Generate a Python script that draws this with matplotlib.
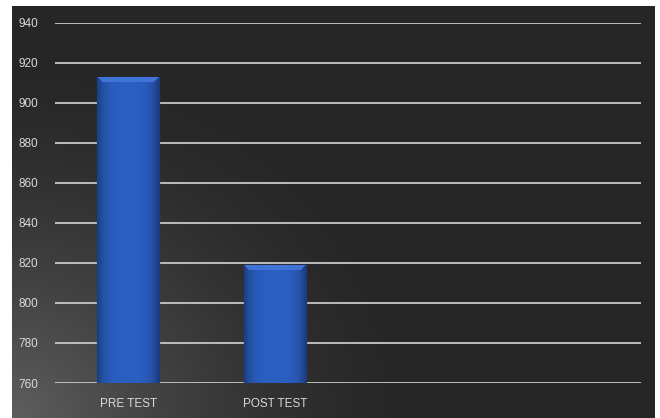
import matplotlib
matplotlib.use("Agg")
import matplotlib.pyplot as plt
import matplotlib.patches as patches
import numpy as np

# data
categories = ["PRE TEST", "POST TEST", "", ""]
scores = [913, 819]
yticks = list(range(760, 941, 20))

W, H = 660, 418
fig = plt.figure(figsize=(W / 100, H / 100), dpi=100)
fig.patch.set_facecolor("white")

# dark panel with a soft light spot in the bottom-left corner
px0, px1, py0, py1 = 12, 655, 0, 412
bg = fig.add_axes([px0 / W, py0 / H, (px1 - px0) / W, (py1 - py0) / H])
bg.axis("off")
gx, gy = np.meshgrid(np.linspace(0, px1 - px0, 400), np.linspace(0, py1 - py0, 260))
d = np.sqrt(gx ** 2 + (gy * 1.1) ** 2)
shade = 0.15 + 0.22 * np.clip(1 - d / 400, 0, 1) ** 1.5
img = np.dstack([shade, shade, shade])
bg.imshow(img, origin="lower", aspect="auto", extent=[0, 1, 0, 1])
bg.set_xlim(0, 1)
bg.set_ylim(0, 1)

ax = fig.add_axes([55 / W, 35 / H, 586 / W, 360 / H])
ax.set_facecolor("none")
for s in ax.spines.values():
    s.set_visible(False)

ax.set_ylim(760, 940)
ax.set_xlim(-0.5, 3.5)
ax.set_yticks(yticks)
for y in yticks:
    ax.axhline(y, color="#c8c8c8", lw=1.3, zorder=1)

x = np.arange(len(scores))
bars = ax.bar(x, [v - 760 for v in scores], bottom=760, width=0.42,
              color="#2a5bbd", edgecolor="#1a3b80", lw=0.9, zorder=3)

# horizontal shading inside each bar
grad = np.linspace(-1, 1, 64)
tone = 1 - 0.35 * grad ** 4
col = np.array([0.17, 0.37, 0.76])
bar_img = np.outer(np.ones(2), tone)[:, :, None] * col[None, None, :]
for b in bars:
    x0, w = b.get_x(), b.get_width()
    im = ax.imshow(bar_img, extent=[x0, x0 + w, 760, b.get_y() + b.get_height()],
                   aspect="auto", zorder=3.5)
    im.set_clip_path(b)
    # lighter bevel on top
    top = b.get_y() + b.get_height()
    ax.add_patch(patches.Polygon([(x0, top), (x0 + w, top), (x0 + w * 0.92, top - 2.5),
                                  (x0 + w * 0.08, top - 2.5)],
                                 fc="#3f74d6", ec="none", zorder=4))
ax.set_xlim(-0.5, 3.5)
ax.set_ylim(760, 940)

ax.set_xticks(np.arange(len(categories)))
ax.set_xticklabels(categories)
ax.tick_params(axis="both", length=0, colors="#d9d9d9", labelsize=8.5)
ax.tick_params(axis="y", pad=12)
ax.tick_params(axis="x", pad=11)
for lab in ax.get_xticklabels() + ax.get_yticklabels():
    lab.set_fontfamily(["Liberation Sans Narrow", "Liberation Sans"])

fig.savefig("out.png", dpi=100)
